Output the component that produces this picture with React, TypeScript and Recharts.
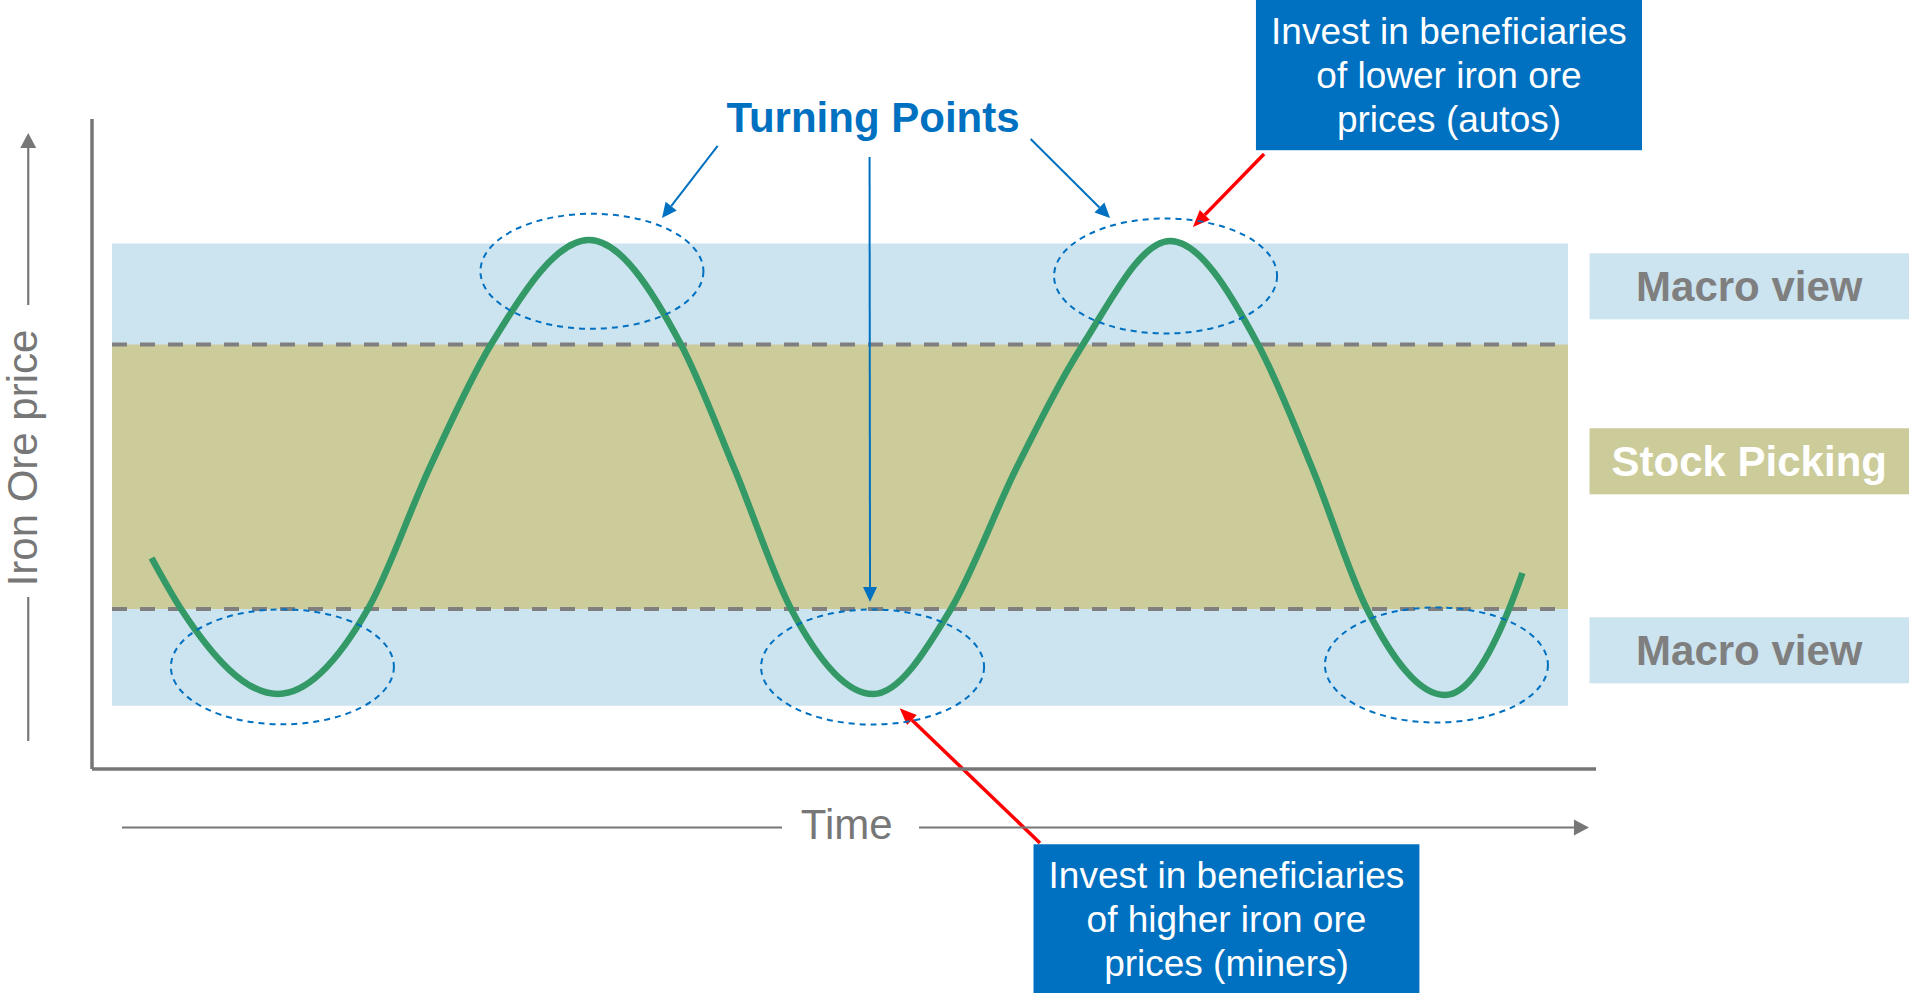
import React from "react";
import {
  ComposedChart,
  Line,
  XAxis,
  YAxis,
  ReferenceArea,
  ReferenceLine,
  ReferenceDot,
} from "recharts";

// Stylised iron ore cycle: time and price on a 0-100 index scale
const time = [
  3.96, 5.92, 12.37, 18.35, 22.47, 26.53, 33.05, 39.16, 42.75, 46.48, 51.93, 57.11, 61.5, 65.89,
  71.68, 77.53, 81.18, 84.77, 89.96, 94.22, 95.11,
];
const price = [
  32.46, 24.62, 11.54, 24.62, 46.46, 65.31, 81.38, 65.31, 46.0, 24.62, 11.54, 24.62, 46.46, 65.31,
  81.23, 65.31, 46.0, 24.62, 11.38, 24.62, 30.15,
];

// price zones
const macroTop = 80.85;
const pickingTop = 65.31;
const pickingBottom = 24.62;
const macroBottom = 9.74;

// turning points (peaks and troughs) that get circled
const turnTime = [12.66, 33.24, 51.9, 71.38, 89.39];
const turnPrice = [15.72, 76.57, 15.69, 75.85, 16.0];

const sideLabels = ["Macro view", "Stock Picking", "Macro view"];
const autosNote = ["Invest in beneficiaries", "of lower iron ore", "prices (autos)"];
const minersNote = ["Invest in beneficiaries", "of higher iron ore", "prices (miners)"];

const rows = time.map((t, i) => ({ t, price: price[i] }));

const FONT = "'Liberation Sans', Arial, Helvetica, sans-serif";
const BLUE = "#0070C0";
const BAND_BLUE = "#CCE3F0";
const OLIVE = "#CCCB9A";
const GREY = "#777777";
const AXIS = "#767676";

function arrowShape(color: string, width: number, head: number, half: number, withHead = true) {
  return (p: any) => {
    const { x1, y1, x2, y2 } = p;
    const dx = x2 - x1;
    const dy = y2 - y1;
    const len = Math.hypot(dx, dy) || 1;
    const ux = dx / len;
    const uy = dy / len;
    const bx = x2 - ux * head;
    const by = y2 - uy * head;
    const nx = -uy;
    const ny = ux;
    return (
      <g>
        <line
          x1={x1}
          y1={y1}
          x2={withHead ? bx : x2}
          y2={withHead ? by : y2}
          stroke={color}
          strokeWidth={width}
        />
        {withHead && (
          <polygon
            points={`${x2},${y2} ${bx + nx * half},${by + ny * half} ${bx - nx * half},${by - ny * half}`}
            fill={color}
          />
        )}
      </g>
    );
  };
}

const noteBox = (lines: string[]) => (p: any) => (
  <g>
    <rect x={p.x} y={p.y} width={p.width} height={p.height} fill={BLUE} />
    {lines.map((s, i) => (
      <text
        key={i}
        x={p.x + p.width / 2}
        y={p.y + 44 + i * 44}
        textAnchor="middle"
        fill="#ffffff"
        fontSize={37}
        fontFamily={FONT}
      >
        {s}
      </text>
    ))}
  </g>
);

const sideBox = (label: string, fill: string, color: string) => (p: any) => (
  <g>
    <rect x={p.x} y={p.y} width={p.width} height={p.height} fill={fill} />
    <text
      x={p.x + p.width / 2}
      y={p.y + p.height / 2 + 15}
      textAnchor="middle"
      fill={color}
      fontSize={42}
      fontWeight="bold"
      fontFamily={FONT}
    >
      {label}
    </text>
  </g>
);

const ellipse = (p: any) => (
  <ellipse
    cx={p.cx}
    cy={p.cy}
    rx={111.5}
    ry={57.5}
    fill="none"
    stroke={BLUE}
    strokeWidth={2}
    strokeDasharray="6 5"
  />
);

const blueArrow = arrowShape(BLUE, 2, 15, 7);
const redArrow = arrowShape("#FF0000", 3.5, 17, 7);
const greyArrow = arrowShape(GREY, 2.2, 15, 8);
const greyLine = arrowShape(GREY, 2.2, 0, 0, false);

export default function App() {
  return (
    <div style={{ position: "absolute", left: 0, top: 0, width: 1909, height: 993, background: "#fff" }}>
      <ComposedChart
        width={1909}
        height={993}
        data={rows}
        margin={{ top: 119, right: 313, bottom: 223, left: 91 }}
      >
        <XAxis
          type="number"
          dataKey="t"
          domain={[0, 100]}
          height={1}
          tick={false}
          tickLine={false}
          axisLine={{ stroke: AXIS, strokeWidth: 3.5 }}
        />
        <YAxis
          type="number"
          domain={[0, 100]}
          width={1}
          tick={false}
          tickLine={false}
          axisLine={{ stroke: AXIS, strokeWidth: 3.5 }}
        />

        <ReferenceArea x1={1.33} x2={98.14} y1={macroBottom} y2={macroTop} fill={BAND_BLUE} fillOpacity={1} ifOverflow="visible" />
        <ReferenceArea x1={1.33} x2={98.14} y1={pickingBottom} y2={pickingTop} fill={OLIVE} fillOpacity={1} ifOverflow="visible" />
        <ReferenceLine
          segment={[{ x: 1.33, y: pickingTop }, { x: 98.14, y: pickingTop }]}
          stroke="#7F7F7F"
          strokeWidth={4}
          strokeDasharray="15 13"
          ifOverflow="visible"
        />
        <ReferenceLine
          segment={[{ x: 1.33, y: pickingBottom }, { x: 98.14, y: pickingBottom }]}
          stroke="#7F7F7F"
          strokeWidth={4}
          strokeDasharray="15 13"
          ifOverflow="visible"
        />

        {/* zone labels on the right */}
        <ReferenceArea x1={99.57} x2={120.81} y1={69.18} y2={79.34} ifOverflow="visible" shape={sideBox(sideLabels[0], BAND_BLUE, "#7F7F7F")} />
        <ReferenceArea x1={99.57} x2={120.81} y1={42.26} y2={52.42} ifOverflow="visible" shape={sideBox(sideLabels[1], OLIVE, "#ffffff")} />
        <ReferenceArea x1={99.57} x2={120.81} y1={13.18} y2={23.34} ifOverflow="visible" shape={sideBox(sideLabels[2], BAND_BLUE, "#7F7F7F")} />

        <Line
          type="monotone"
          dataKey="price"
          stroke="#339966"
          strokeWidth={6.5}
          dot={false}
          activeDot={false}
          isAnimationActive={false}
        />

        {turnTime.map((t, i) => (
          <ReferenceDot key={i} x={t} y={turnPrice[i]} ifOverflow="visible" shape={ellipse} />
        ))}

        {/* "Turning Points" callout */}
        <ReferenceDot
          x={51.93}
          y={98.05}
          ifOverflow="visible"
          shape={(p: any) => (
            <text x={p.cx} y={p.cy} textAnchor="middle" fill={BLUE} fontSize={42} fontWeight="bold" fontFamily={FONT}>
              Turning Points
            </text>
          )}
        />
        <ReferenceLine segment={[{ x: 41.6, y: 95.85 }, { x: 37.9, y: 84.77 }]} ifOverflow="visible" shape={blueArrow} />
        <ReferenceLine segment={[{ x: 51.7, y: 94.15 }, { x: 51.73, y: 25.69 }]} ifOverflow="visible" shape={blueArrow} />
        <ReferenceLine segment={[{ x: 62.41, y: 96.92 }, { x: 67.69, y: 84.77 }]} ifOverflow="visible" shape={blueArrow} />

        {/* investment notes */}
        <ReferenceArea x1={77.39} x2={103.06} y1={95.2} y2={118.31} ifOverflow="visible" shape={noteBox(autosNote)} />
        <ReferenceArea x1={62.6} x2={88.26} y1={-34.46} y2={-11.58} ifOverflow="visible" shape={noteBox(minersNote)} />
        <ReferenceLine segment={[{ x: 77.93, y: 94.62 }, { x: 73.2, y: 83.38 }]} ifOverflow="visible" shape={redArrow} />
        <ReferenceLine segment={[{ x: 63.03, y: -11.38 }, { x: 53.7, y: 9.34 }]} ifOverflow="visible" shape={redArrow} />

        {/* axis titles with arrows */}
        <ReferenceLine segment={[{ x: 1.99, y: -9 }, { x: 45.88, y: -9 }]} ifOverflow="visible" shape={greyLine} />
        <ReferenceLine segment={[{ x: 54.99, y: -9 }, { x: 99.53, y: -9 }]} ifOverflow="visible" shape={greyArrow} />
        <ReferenceDot
          x={50.18}
          y={-10.82}
          ifOverflow="visible"
          shape={(p: any) => (
            <text x={p.cx} y={p.cy} textAnchor="middle" fill={GREY} fontSize={42} fontFamily={FONT}>
              Time
            </text>
          )}
        />
        <ReferenceLine segment={[{ x: -4.24, y: 4.31 }, { x: -4.24, y: 26.46 }]} ifOverflow="visible" shape={greyLine} />
        <ReferenceLine segment={[{ x: -4.24, y: 71.38 }, { x: -4.24, y: 97.85 }]} ifOverflow="visible" shape={greyArrow} />
        <ReferenceDot
          x={-3.66}
          y={47.85}
          ifOverflow="visible"
          shape={(p: any) => (
            <text
              x={p.cx}
              y={p.cy}
              transform={`rotate(-90 ${p.cx} ${p.cy})`}
              textAnchor="middle"
              fill={GREY}
              fontSize={42}
              fontFamily={FONT}
            >
              Iron Ore price
            </text>
          )}
        />
      </ComposedChart>
    </div>
  );
}
